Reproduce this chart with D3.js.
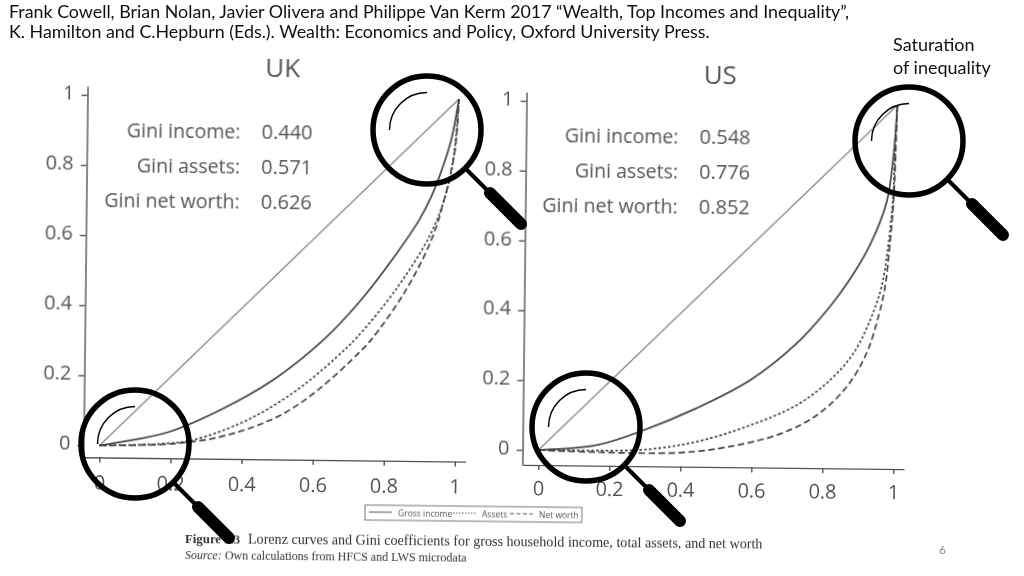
<!DOCTYPE html>
<html><head>
<meta charset="utf-8">
<title>Lorenz curves</title>
<script src="https://d3js.org/d3.v7.min.js"></script>
<style>
  body { margin: 0; background: #fff; }
  svg { display: block; }
  .slide { font-family: Lato, "Open Sans", sans-serif; fill: #111; }
  .scan { filter: blur(0.45px); }
  .scan text { font-family: "Open Sans", "Noto Sans", sans-serif; fill: #555; }
  .scan .axis text { font-size: 20px; }
  .scan .axis line, .scan .axis path { stroke: #555; stroke-width: 1.4; }
  .scan text.caption { font-family: "Liberation Serif", serif; fill: #333; }
</style>
</head>
<body>
<svg id="chart" width="1024" height="576"></svg>

<script>
// values, [share of households, share of total]
const tickValues = [0, 0.2, 0.4, 0.6, 0.8, 1];
const diagonal = [[0, 0], [1, 1]];

const ukIncome = [[0,0],[0.1,0.018],[0.198,0.042],[0.338,0.105],[0.478,0.187],[0.57,0.258],[0.653,0.335],[0.736,0.43],[0.83,0.558],[0.89,0.65],[0.925,0.72],[0.955,0.8],[0.98,0.885],[1,1]];
const ukAssets = [[0,0],[0.1,0.003],[0.19,0.008],[0.264,0.019],[0.385,0.063],[0.478,0.113],[0.571,0.178],[0.664,0.26],[0.72,0.316],[0.831,0.458],[0.923,0.611],[0.964,0.72],[0.987,0.835],[1,1]];
const ukNetWorth = [[0,0],[0.1,0.002],[0.2,0.007],[0.32,0.024],[0.432,0.058],[0.525,0.102],[0.618,0.17],[0.73,0.276],[0.762,0.312],[0.849,0.44],[0.923,0.587],[0.959,0.702],[0.99,0.85],[1,1]];

const usIncome = [[0,0],[0.164,0.016],[0.285,0.056],[0.444,0.125],[0.594,0.207],[0.724,0.314],[0.816,0.42],[0.867,0.492],[0.927,0.598],[0.973,0.723],[0.99,0.847],[1,1]];
const usAssets = [[0,0],[0.15,0],[0.305,0.005],[0.445,0.029],[0.586,0.074],[0.726,0.137],[0.819,0.21],[0.884,0.287],[0.93,0.383],[0.961,0.479],[0.979,0.599],[0.991,0.742],[0.995,0.885],[1,1]];
const usNetWorth = [[0,0],[0.15,-0.004],[0.398,-0.003],[0.539,0.016],[0.68,0.054],[0.783,0.109],[0.866,0.191],[0.921,0.288],[0.953,0.393],[0.971,0.479],[0.983,0.599],[0.993,0.742],[0.997,0.885],[1,1]];

const giniLabels = ["Gini income:", "Gini assets:", "Gini net worth:"];
const ukGini = ["0.440", "0.571", "0.626"];
const usGini = ["0.548", "0.776", "0.852"];
const legendItems = ["Gross income", "Assets", "Net worth"];

const svg = d3.select("#chart");
const scan = svg.append("g").attr("class", "scan");
const tilt = 0.65;   // the scanned page sits slightly rotated

function drawPanel(p) {
  const g = scan.append("g").attr("transform", `rotate(${tilt},${p.left},${p.bottom})`);

  // axes run a little past 0 and 1, so the domains do too
  const x = d3.scaleLinear().domain([-0.045, 1.03])
    .range([p.left - 0.045 * p.w, p.left + 1.03 * p.w]);
  const y = d3.scaleLinear().domain([p.yMin, 1.025])
    .range([p.bottom - p.yMin * p.h, p.bottom - 1.025 * p.h]);

  const xAxis = d3.axisBottom(x).tickValues(tickValues).tickFormat(d3.format("~g"))
    .tickSize(5).tickSizeOuter(0).tickPadding(p.tickPad);
  const yAxis = d3.axisLeft(y).tickValues(tickValues).tickFormat(d3.format("~g"))
    .tickSize(6).tickSizeOuter(0).tickPadding(7);

  g.append("g").attr("class", "axis").attr("transform", `translate(0,${y(p.yMin)})`).call(xAxis);
  g.append("g").attr("class", "axis yaxis").attr("transform", `translate(${x(-0.045)},0)`).call(yAxis);
  g.selectAll(".axis .domain").attr("fill", "none");
  g.selectAll(".yaxis text").attr("y", -2);

  const line = d3.line().x(d => x(d[0])).y(d => y(d[1])).curve(d3.curveCatmullRom.alpha(0.5));
  const series = [
    { values: diagonal, color: "#888", width: 1.3, dash: null },
    { values: p.income, color: "#444", width: 1.7, dash: null },
    { values: p.assets, color: "#444", width: 1.7, dash: "2.6 2.2" },
    { values: p.netWorth, color: "#444", width: 1.7, dash: "6.5 3.5" }
  ];
  g.selectAll("path.curve").data(series).join("path")
    .attr("class", "curve")
    .attr("fill", "none")
    .attr("stroke", d => d.color)
    .attr("stroke-width", d => d.width)
    .attr("stroke-dasharray", d => d.dash)
    .attr("d", d => line(d.values));

  g.append("text").text(p.title)
    .attr("x", p.titleX).attr("y", p.titleY)
    .attr("text-anchor", "middle").attr("font-size", 26);

  g.selectAll("text.gini").data(giniLabels).join("text")
    .attr("class", "gini")
    .attr("x", p.giniX).attr("y", (d, i) => p.giniY + i * 35)
    .attr("text-anchor", "end").attr("font-size", 19.6)
    .text(d => d);
  g.selectAll("text.giniv").data(p.gini).join("text")
    .attr("class", "giniv")
    .attr("x", p.giniX + 21).attr("y", (d, i) => p.giniY + i * 35)
    .attr("font-size", 20)
    .text(d => d);
}

drawPanel({ title: "UK", titleX: 278.5, titleY: 75, left: 99.5, bottom: 445.5, w: 355.5, h: 350.5,
  yMin: -0.034, tickPad: 13, income: ukIncome, assets: ukAssets, netWorth: ukNetWorth, gini: ukGini,
  giniX: 237, giniY: 137 });
drawPanel({ title: "US", titleX: 716, titleY: 82, left: 538.5, bottom: 450, w: 355, h: 349,
  yMin: -0.043, tickPad: 11, income: usIncome, assets: usAssets, netWorth: usNetWorth, gini: usGini,
  giniX: 675, giniY: 142 });

// legend box under the panels
const legend = scan.append("g").attr("transform", `rotate(${tilt},364,505)`);
legend.append("rect").attr("x", 365).attr("y", 505).attr("width", 217).attr("height", 15)
  .attr("fill", "#fff").attr("stroke", "#777").attr("stroke-width", 1);
const legendDash = [null, "1.5 1.5", "4 2.5"];
const legendLine = [[369, 392], [453, 477], [510, 533]];
const legendText = [398, 482, 539];
legendItems.forEach((t, i) => {
  legend.append("line").attr("x1", legendLine[i][0]).attr("x2", legendLine[i][1])
    .attr("y1", 512).attr("y2", 512)
    .attr("stroke", "#555").attr("stroke-dasharray", legendDash[i]);
  legend.append("text").attr("x", legendText[i]).attr("y", 515.5)
    .attr("font-size", 8.5).text(t);
});

// caption, part of the scan
const caption = scan.append("g").attr("transform", "rotate(0.55,185,543)");
caption.append("text").attr("class", "caption").attr("x", 185).attr("y", 543)
  .attr("font-size", 12.8).attr("font-weight", "bold").text("Figure 3.3");
caption.append("text").attr("class", "caption").attr("x", 248).attr("y", 543)
  .attr("font-size", 14.1).text("Lorenz curves and Gini coefficients for gross household income, total assets, and net worth");
caption.append("text").attr("class", "caption").attr("x", 185).attr("y", 559)
  .attr("font-size", 12)
  .html('<tspan font-style="italic">Source:</tspan> Own calculations from HFCS and LWS microdata');

// magnifying glasses on the slide
function drawLens(cx, cy) {
  const g = svg.append("g").attr("transform", `translate(${cx},${cy})`)
    .attr("fill", "none").attr("stroke", "#000").attr("stroke-linecap", "round");
  g.append("circle").attr("r", 54).attr("stroke-width", 5.5);
  g.append("path").attr("stroke-width", 1.5)
    .attr("d", d3.arc()({ innerRadius: 37.5, outerRadius: 37.5, startAngle: -Math.PI / 2, endAngle: 0 }));
  g.append("line").attr("x1", 39).attr("y1", 39).attr("x2", 65).attr("y2", 65).attr("stroke-width", 4);
  g.append("line").attr("x1", 63).attr("y1", 63).attr("x2", 94).attr("y2", 94).attr("stroke-width", 12);
}
drawLens(427, 130);
drawLens(135, 444);
drawLens(909, 141);
drawLens(586, 427);

// slide text
const slide = svg.append("g").attr("class", "slide");
slide.append("text").attr("x", 9).attr("y", 17.6).attr("font-size", 17.85)
  .text("Frank Cowell, Brian Nolan, Javier Olivera and Philippe Van Kerm 2017 “Wealth, Top Incomes and Inequality”,");
slide.append("text").attr("x", 9).attr("y", 37.5).attr("font-size", 17.85)
  .text("K. Hamilton and C.Hepburn (Eds.). Wealth: Economics and Policy, Oxford University Press.");
slide.append("text").attr("x", 893).attr("y", 51).attr("font-size", 18).text("Saturation");
slide.append("text").attr("x", 893).attr("y", 74).attr("font-size", 18).text("of inequality");
slide.append("text").attr("x", 939).attr("y", 554).attr("font-size", 12)
  .style("fill", "#888").text("6");
</script>
</body>
</html>
